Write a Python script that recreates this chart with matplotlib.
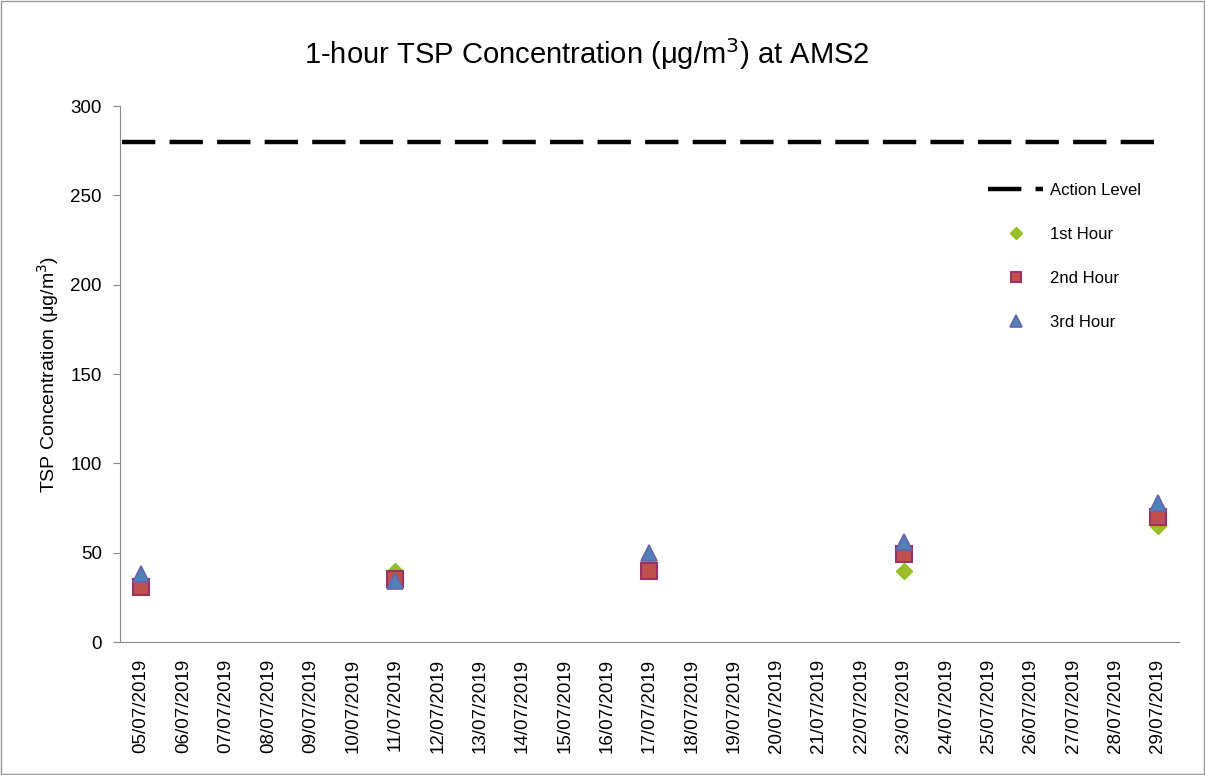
import numpy as np
import matplotlib.pyplot as plt
from matplotlib.patches import Rectangle

plt.rcParams['font.family'] = ['Liberation Sans', 'DejaVu Sans']

# даты по оси X
dates = ["%02d/07/2019" % d for d in range(5, 30)]

# значения по часам (None - нет замера)
hour1 = {"05/07/2019": 33, "11/07/2019": 40, "17/07/2019": 41, "23/07/2019": 40, "29/07/2019": 65}
hour2 = {"05/07/2019": 31, "11/07/2019": 35, "17/07/2019": 40, "23/07/2019": 49, "29/07/2019": 70}
hour3 = {"05/07/2019": 38, "11/07/2019": 34, "17/07/2019": 50, "23/07/2019": 56, "29/07/2019": 78}
action_level = 280

x = np.arange(len(dates))
def series(d):
    return np.array([d.get(k, np.nan) for k in dates], dtype=float)

fig = plt.figure(figsize=(12.05, 7.75), dpi=100)
ax = fig.add_axes([0.0996, 0.1716, 0.8788, 0.6916])

ax.axhline(action_level, xmin=0.002, xmax=0.978, color='black', lw=3.2,
           dashes=(7.5, 3.2), label='Action Level')
ax.plot(x, series(hour1), 'D', ms=8.5, color='#9BBB2A', mec='#8DC21F', label='1st Hour')
ax.plot(x, series(hour2), 's', ms=11, color='#C0504D', mec='#993366', mew=1.5, label='2nd Hour')
ax.plot(x, series(hour3), '^', ms=12, color='#4F81BD', mec='#6A63A8', mew=1.2, label='3rd Hour')

ax.set_xlim(-0.5, len(dates) - 0.5)
ax.set_ylim(0, 300)
ax.set_yticks(range(0, 301, 50))
ax.set_xticks(x)
ax.set_xticklabels(dates, rotation=90, fontsize=13.5)
ax.tick_params(axis='x', length=0, pad=12)
ax.tick_params(axis='y', labelsize=13.5, length=5, color='#888888', pad=8)
for s in ['top', 'right']:
    ax.spines[s].set_visible(False)
for s in ['left', 'bottom']:
    ax.spines[s].set_color('#888888')

ax.set_ylabel('TSP Concentration (μg/m$^3$)', fontsize=14, labelpad=7)
fig.text(0.487, 0.93, '1-hour TSP Concentration (μg/m$^3$) at AMS2', fontsize=21,
         ha='center', va='center')

leg = ax.legend(loc='upper right', bbox_to_anchor=(0.978, 0.885), frameon=False,
                fontsize=12, labelspacing=1.75, handlelength=3.3, markerscale=0.7,
                handletextpad=0.4)

fig.patches.append(Rectangle((0.0005, 0.0008), 0.999, 0.998, transform=fig.transFigure,
                             fill=False, edgecolor='#999999', lw=1))

fig.savefig('out.png', dpi=100)
